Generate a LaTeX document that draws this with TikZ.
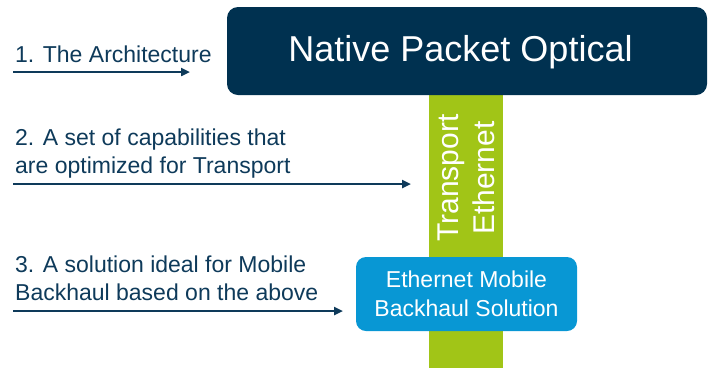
\documentclass[tikz,border=0pt]{standalone}
\usepackage{fontspec}
\setmainfont{Liberation Sans}
\usetikzlibrary{arrows.meta}
\definecolor{npnavy}{HTML}{003150}
\definecolor{nptext}{HTML}{0E3A5A}
\definecolor{npgreen}{HTML}{A1C517}
\definecolor{npblue}{HTML}{0897D4}

\begin{document}
\begin{tikzpicture}[x=1pt,y=-1pt,
    box/.style={rounded corners=11pt,inner sep=0pt,text=white},
    note/.style={anchor=base west,inner sep=0pt,align=left,text=nptext,font=\fontsize{23}{27.5}\selectfont},
    arr/.style={draw=nptext,line width=2.6pt,-{Triangle[length=9pt,width=8pt]}}]
    \useasboundingbox (0,0) rectangle (710,368);
    % green column under the top box
    \node[fill=npgreen,minimum width=74pt,minimum height=273pt,inner sep=0pt] (bar) at (466,231.5) {};
    \node[box,fill=npnavy,minimum width=480pt,minimum height=88pt] (npo) at (467,51) {};
    \node[inner sep=0pt,text=white,font=\fontsize{36}{43}\selectfont] (npot) at (460.5,52) {Native Packet Optical};
    \node[rotate=90,align=center,inner sep=0pt,text=white,font=\fontsize{30}{36}\selectfont] (te) at (466,178) {Transport\\Ethernet};
    \node[box,fill=npblue,rounded corners=10pt,minimum width=221pt,minimum height=74pt,align=center,font=\fontsize{23}{29}\selectfont] (emb) at (466.5,294) {Ethernet Mobile\\Backhaul Solution};
    % numbered notes on the left (base = last line)
    \node[note] (n1) at (15,62) {1. The Architecture};
    \node[note] (n2) at (15,173) {2. A set of capabilities that\\are optimized for Transport};
    \node[note] (n3) at (15,300) {3. A solution ideal for Mobile\\Backhaul based on the above};
    \coordinate (a1) at (13,72);
    \coordinate (b1) at (190,72);
    \coordinate (a2) at (13,184);
    \coordinate (b2) at (411,184);
    \coordinate (a3) at (13,311);
    \coordinate (b3) at (343,311);
    \draw[arr] (a1) -- (b1);
    \draw[arr] (a2) -- (b2);
    \draw[arr] (a3) -- (b3);
\end{tikzpicture}
\end{document}
